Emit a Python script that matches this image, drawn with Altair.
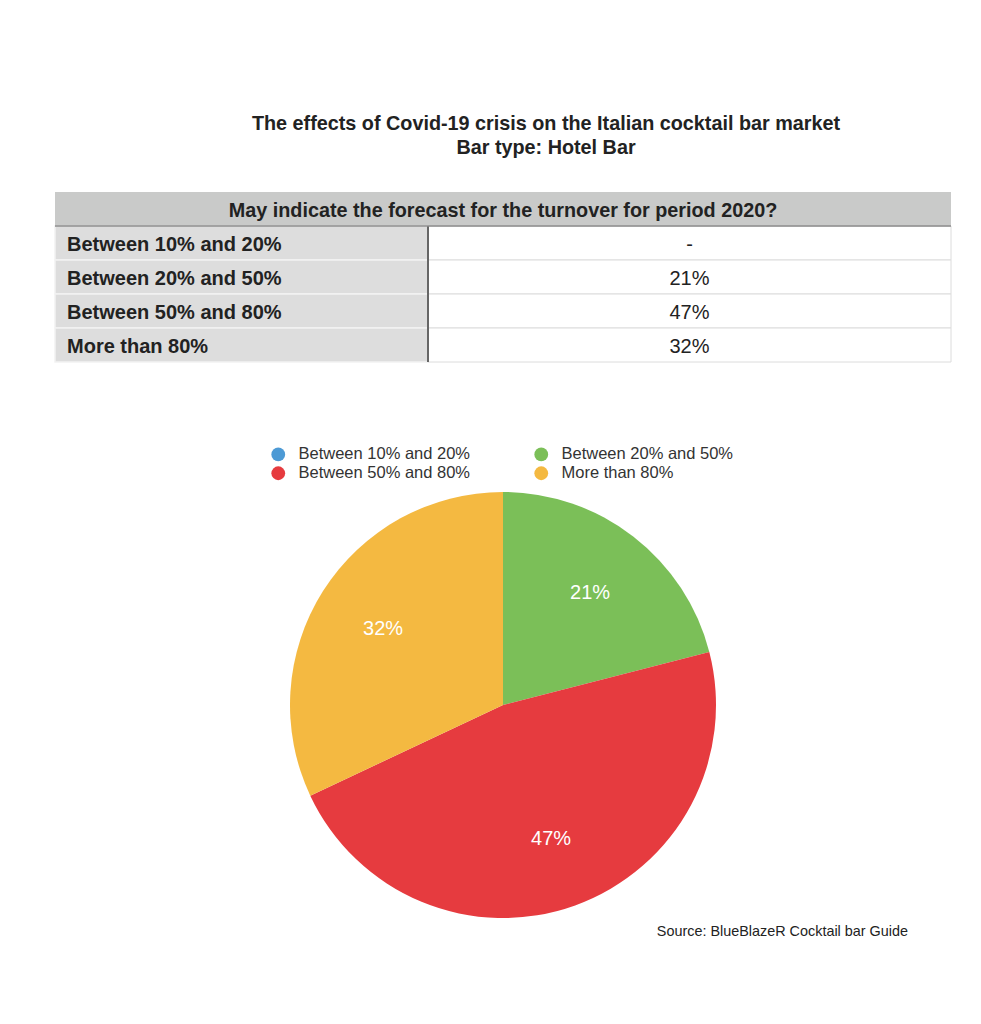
import altair as alt
import pandas as pd

# ---------------- data ----------------
title_lines = ["The effects of Covid-19 crisis on the Italian cocktail bar market",
               "Bar type: Hotel Bar"]
table_question = "May indicate the forecast for the turnover for period 2020?"
categories = ["Between 10% and 20%", "Between 20% and 50%",
              "Between 50% and 80%", "More than 80%"]
shares = [0, 21, 47, 32]
table_values = ["-", "21%", "47%", "32%"]
pie_colors = ["#4d9ad5", "#7bbf58", "#e63b3f", "#f4b941"]
source_note = "Source: BlueBlazeR Cocktail bar Guide"

FONT = "Liberation Sans"
TW = 896          # table width
TH = 170          # table height
SPLIT = 373       # left column width

# ---------------- table ----------------
rows = pd.DataFrame({
    "row": [0] + [i + 1 for i in range(len(categories))],
    "kind": ["header"] + ["data"] * len(categories),
    "label": [table_question] + categories,
    "value": [""] + table_values,
})
ybase = alt.Y("row:O", axis=None, scale=alt.Scale(paddingInner=0, paddingOuter=0))

header_bg = alt.Chart(rows).transform_filter("datum.kind == 'header'").mark_rect(
    color="#c9cac9").encode(y=ybase, x=alt.value(0), x2=alt.value(TW))
header_line = alt.Chart(rows).transform_filter("datum.kind == 'header'").mark_rule(
    color="#8a8a8a", strokeWidth=1.5).encode(
    y=alt.Y("row:O", axis=None, bandPosition=1), x=alt.value(0), x2=alt.value(TW))
header_text = alt.Chart(rows).transform_filter("datum.kind == 'header'").mark_text(
    font=FONT, fontSize=19.8, fontWeight="bold", color="#222222", align="center",
    baseline="middle", dy=2).encode(y=ybase, x=alt.value(TW / 2), text="label:N")

data_rows = alt.Chart(rows).transform_filter("datum.kind == 'data'")
left_bg = data_rows.mark_rect(color="#dddddd", stroke="#f2f2f2", strokeWidth=1.5).encode(
    y=ybase, x=alt.value(0), x2=alt.value(SPLIT))
right_bg = data_rows.mark_rect(color="#ffffff", stroke="#dcdcdc", strokeWidth=1).encode(
    y=ybase, x=alt.value(SPLIT), x2=alt.value(TW))
divider = data_rows.mark_rect(color="#666666").encode(
    y=ybase, x=alt.value(SPLIT - 1), x2=alt.value(SPLIT + 1))
left_text = data_rows.mark_text(
    font=FONT, fontSize=20, fontWeight="bold", color="#222222", align="left",
    baseline="middle", dx=12, dy=2).encode(y=ybase, x=alt.value(0), text="label:N")
right_text = data_rows.mark_text(
    font=FONT, fontSize=20, color="#222222", align="center",
    baseline="middle", dy=2).encode(y=ybase, x=alt.value((SPLIT + TW) / 2), text="value:N")

table = alt.layer(header_bg, left_bg, right_bg, divider, header_line,
                  header_text, left_text, right_text).properties(width=TW, height=TH)

# ---------------- pie ----------------
pie_df = pd.DataFrame({"category": categories, "share": shares,
                       "order": list(range(len(categories)))})
pie_df["label"] = [f"{v}%" if v > 0 else "" for v in shares]

color = alt.Color(
    "category:N",
    scale=alt.Scale(domain=categories, range=pie_colors),
    legend=alt.Legend(
        title=None, orient="none", legendX=215, legendY=254, columns=2,
        direction="horizontal",
        symbolType="circle", symbolSize=190, symbolStrokeWidth=0,
        labelFont=FONT, labelFontSize=16.5, labelColor="#333333", labelLimit=400,
        columnPadding=62, rowPadding=2, labelOffset=12, symbolOpacity=1,
    ),
)
base = alt.Chart(pie_df).encode(
    theta=alt.Theta("share:Q", stack=True),
    order=alt.Order("order:Q"),
)
arcs = base.mark_arc(outerRadius=213).encode(color=color)
labels = base.mark_text(radius=142, font=FONT, fontSize=20, color="white").encode(
    text="label:N")

pie = alt.layer(arcs, labels).properties(
    width=TW, height=454,
    title=alt.TitleParams(source_note, orient="bottom", anchor="end", frame="group",
                          font=FONT, fontSize=14.4, fontWeight="normal",
                          color="#222222", dx=-43, offset=-7),
)

chart = alt.vconcat(table, pie, spacing=115).properties(
    title=alt.TitleParams(title_lines, anchor="middle", dx=43, font=FONT, fontSize=19.8,
                          fontWeight="bold", color="#222222", lineHeight=24,
                          offset=34),
    padding={"left": 46, "top": 106, "right": 10, "bottom": 10},
).configure_view(stroke=None)

chart.save("out.html", embed_options={"renderer": "svg", "actions": False})
